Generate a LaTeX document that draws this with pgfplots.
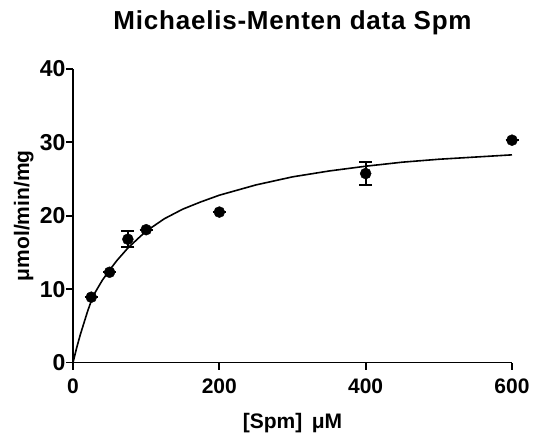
\documentclass[border=0pt]{standalone}
\usepackage{fontspec}
\setmainfont{Liberation Sans}
\newfontfamily\titlefont[LetterSpace=3]{Liberation Sans}
\usepackage{pgfplots}
\usepackage{pgfplotstable}
\pgfplotsset{compat=1.18}
\pgfplotstableread{
x y err
25 8.9 0
50 12.3 0
75 16.8 1.1
100 18.1 0
200 20.5 0
400 25.75 1.6
600 30.3 0
}\datatable
\begin{document}
\begin{tikzpicture}
\begin{axis}[
  at={(0,0)}, anchor=south west,
  scale only axis,
  width=439pt, height=293.5pt,
  xmin=0, xmax=600, ymin=0, ymax=40,
  axis x line*=bottom, axis y line*=left,
  axis line style={line width=1.8pt, -},
  xtick={0,200,400,600}, ytick={0,10,20,30,40},
  minor tick num=0,
  tick align=outside,
  major tick length=7pt,
  every tick/.style={line width=1.8pt, black},
  /pgf/number format/assume math mode=true,
  xticklabel style={font=\fontsize{21}{24}\selectfont\bfseries, yshift=-6pt},
  yticklabel style={font=\fontsize{23}{26}\selectfont\bfseries, xshift=3pt},
  xlabel={[Spm]\hspace{0.45em}μM},
  ylabel={μmol/min/mg},
  xlabel style={font=\fontsize{21}{24}\selectfont\bfseries,
    at={(axis description cs:0.5,0)}, anchor=base, yshift=-66pt},
  ylabel style={font=\fontsize{21}{24}\selectfont\bfseries,
    at={(axis description cs:-0.112,0.5)}, anchor=center},
  title={Michaelis-Menten data Spm},
  title style={font=\titlefont\fontsize{26}{29}\selectfont\bfseries,
    at={(axis description cs:0.5,1)}, anchor=base, yshift=33pt},
  clip=false,
]
\addplot[black, line width=1.6pt, no markers] coordinates {
(0,0) (2.5,1.0) (5,2.0) (10,3.8) (15,5.4) (20,7.0) (25,8.4) (30,9.5) (40,11.2)
(50,12.6) (60,13.9) (75,15.6) (90,17.0) (100,17.9) (125,19.6) (150,20.9)
(175,21.9) (200,22.8) (250,24.2) (300,25.3) (350,26.1) (400,26.75)
(450,27.3) (500,27.7) (550,28.0) (600,28.3)
};
\addplot[black, only marks, mark=*, mark size=5.5pt,
  error bars/.cd, y dir=both, y explicit,
  error bar style={line width=1.8pt, black},
  error mark options={rotate=90, mark size=6.5pt, line width=1.8pt, black}]
  table[x=x, y=y, y error=err] {\datatable};
\end{axis}
\pgfresetboundingbox
\useasboundingbox (-73pt,-71.5pt) rectangle (462pt,362.5pt);
\end{tikzpicture}
\end{document}
